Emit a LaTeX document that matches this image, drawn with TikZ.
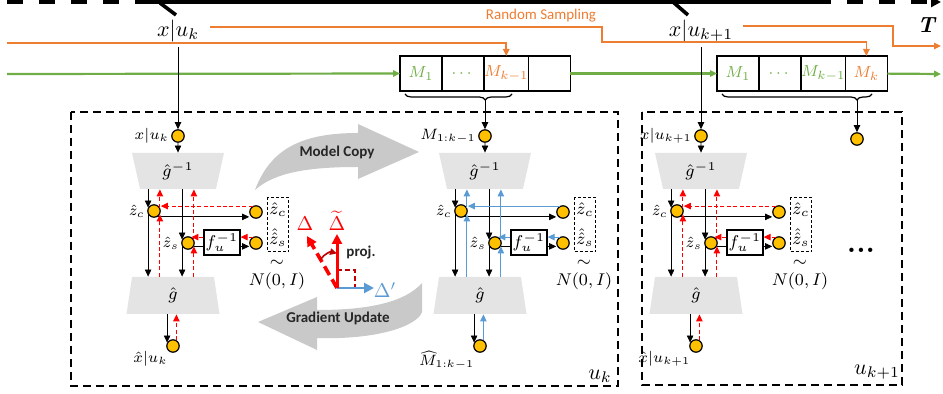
\RequirePackage{fix-cm}
\documentclass[tikz,border=0pt]{standalone}
\usepackage{amsmath,amssymb}
\usepackage{fontspec}
\usepackage{xcolor}
\usepackage{tikz}
\usetikzlibrary{shapes,arrows,positioning,calc,decorations.pathreplacing,arrows.meta}
\newfontfamily\calibri{Carlito}

\definecolor{ppOrange}{HTML}{ED7D31}
\definecolor{ppGreen}{HTML}{70AD47}
\definecolor{ppBlue}{HTML}{5B9BD5}
\definecolor{ppYellow}{HTML}{FFC000}
\definecolor{ppGray}{HTML}{E4E4E4}
\definecolor{arrGray}{HTML}{C9C9C9}
\definecolor{darkRed}{HTML}{C00000}

\tikzset{
    dot/.style={circle, draw, fill=ppYellow, minimum size=6.2pt, inner sep=0pt, line width=0.6pt},
    lbl/.style={inner sep=1pt, font=\fontsize{7.5}{9}\selectfont},
    ginv/.style={trapezium, trapezium left angle=115, trapezium right angle=115, trapezium stretches body, fill=ppGray, minimum width=46pt, minimum height=18pt, inner sep=0pt},
    gfwd/.style={trapezium, trapezium left angle=70, trapezium right angle=70, trapezium stretches body, fill=ppGray, minimum width=46.5pt, minimum height=18.5pt, inner sep=0pt},
    fbox/.style={draw, fill=white, line width=0.6pt, minimum width=18pt, minimum height=12.5pt, inner sep=0pt},
    nbox/.style={draw, dash pattern=on 1.5pt off 1pt, line width=0.5pt, minimum width=10.5pt, minimum height=27pt, inner sep=0pt, align=center, font=\fontsize{8.5}{15}\selectfont},
    cell/.style={draw, line width=0.6pt, minimum width=21pt, minimum height=17.5pt, inner sep=0pt, outer sep=0pt, font=\fontsize{8}{9}\selectfont},
    bwdred/.style={->, red, line width=0.6pt, dash pattern=on 2pt off 1.2pt},
    bwdblue/.style={->, ppBlue, line width=0.6pt},
    samp/.style={->, ppOrange, line width=0.8pt},
    mem/.style={->, ppGreen, line width=1.1pt},
    unitbox/.style={draw, line width=0.7pt, dash pattern=on 4pt off 2.5pt},
    sans/.style={font=\calibri\bfseries\fontsize{7.5}{8}\selectfont, text=black!85},
    vec/.style={line width=1.5pt, -{Triangle[length=5pt,width=5pt]}}
}

\begin{document}
\begin{tikzpicture}[x=0.5pt, y=-0.5pt, font=\fontsize{8.5}{10}\selectfont, >={Triangle[length=3.5pt,width=3.2pt]}]
    \useasboundingbox (0,0) rectangle (943,394);

    % time line
    \draw[line width=1.8pt, dash pattern=on 8pt off 8pt] (7,2) -- (140,2);
    \draw[line width=1.8pt] (140,2) -- (815,2);
    \draw[line width=1.8pt, dash pattern=on 8pt off 8pt, -{Triangle[length=5pt,width=5pt]}] (815,2) -- (941,2);
    \draw[line width=1.8pt] (160,3) -- (176,15);
    \draw[line width=1.8pt] (673,2) -- (688,15);
    \node (T) at (927,25) {\fontsize{11}{12}\selectfont\textbf{\textit{T}}};

    \node[inner sep=2.5pt, font=\fontsize{11}{12}\selectfont] (xk) at (178,31) {$x|u_k$};
    \node[inner sep=2.5pt, font=\fontsize{11}{12}\selectfont] (xk1) at (701,31) {$x|u_{k+1}$};

    % memory
    \node[cell, text=ppGreen] (ma1) at (421,73.5) {$M_1$};
    \node[cell, text=ppGreen, right=0pt of ma1] (ma2) {$\cdots$};
    \node[cell, text=ppOrange, right=0pt of ma2] (ma3) {$M_{k-1}$};
    \node[cell, right=0pt of ma3] (ma4) {};
    \node[cell, text=ppGreen] (mb1) at (738,73.5) {$M_1$};
    \node[cell, text=ppGreen, right=0pt of mb1] (mb2) {$\cdots$};
    \node[cell, text=ppGreen, right=0pt of mb2] (mb3) {$M_{k-1}$};
    \node[cell, text=ppOrange, right=0pt of mb3] (mb4) {$M_k$};

    \coordinate (g0) at (7,74);
    \coordinate (g1) at (941,74);
    \draw[mem] (g0) -- (ma1);
    \draw[mem] (ma4) -- (mb1);
    \draw[mem] (mb4) -- (g1);

    % random sampling
    \coordinate (o1) at (7,43);
    \coordinate (o2) at (210,27);
    \coordinate (o3) at (743,26);
    \coordinate (o3e) at (941,46);
    \draw[samp] (o1) -| (ma3);
    \draw[samp] (o2) -- (602,27) -- (602,42) -| (mb4);
    \draw[samp] (o3) -- (893,26) |- (o3e);
    \node[font=\calibri\fontsize{7.5}{8}\selectfont, text=ppOrange] (rs) at (541,16) {Random Sampling};

    % braces
    \draw[line width=0.6pt, decorate, decoration={brace, mirror, amplitude=3pt, aspect=0.75}] (405,94) -- (512,94);
    \draw[line width=0.6pt, decorate, decoration={brace, mirror, amplitude=3pt, aspect=0.9}] (722,94) -- (872,94);
    \coordinate (ba) at (485,100);
    \coordinate (bb) at (857,100);

    % units
    \draw[unitbox] (71,112) rectangle (618,386);
    \draw[unitbox] (642,112) rectangle (902,385);
    \node[font=\fontsize{11}{12}\selectfont] (uk) at (600,376) {$u_k$};
    \node[font=\fontsize{11}{12}\selectfont] (uk1) at (877,372) {$u_{k+1}$};

    % flow modules
    \foreach \cx/\m/\bk/\inl/\outl in {178/a/bwdred/{x|u_k}/{\hat{x}|u_k}, 485/b/bwdblue/{M_{1:k-1}}/{\widehat{M}_{1:k-1}}, 701/c/bwdred/{x|u_{k+1}}/{\hat{x}|u_{k+1}}} {
        \node[dot, label={[lbl]left:$\inl$}] (\m-in) at (\cx,136) {};
        \node[ginv] (\m-gi) at (\cx,171) {$\hat{g}^{-1}$};
        \node[dot, label={[lbl]left:$\hat{z}_c$}] (\m-zc) at (\cx-24,211) {};
        \node[dot, label={[lbl]left:$\hat{z}_s$}] (\m-zs) at (\cx+10,243) {};
        \node[fbox] (\m-f) at (\cx+44,242.5) {$f_u^{-1}$};
        \node[dot] (\m-rc) at (\cx+78,212) {};
        \node[dot] (\m-rs) at (\cx+78,243) {};
        \node[nbox] (\m-nb) at (\cx+100,225) {$\hat{z}_c$\\$\hat{\hat{z}}_s$};
        \node[inner sep=0pt] (\m-sim) at (\cx+99,263) {$\sim$};
        \node[inner sep=0pt] (\m-N) at (\cx+99,281) {$N(0,I)$};
        \node[gfwd] (\m-g) at (\cx-5,295.5) {$\hat{g}$};
        \node[dot, label={[lbl, inner sep=0pt, anchor=north east]220:$\outl$}] (\m-out) at (\cx-5,346) {};

        % forward
        \draw[->] (\m-in) -- (\m-gi);
        \draw[->] (\m-gi.south -| \m-zc.150) -- (\m-zc.150);
        \draw[->] (\m-zc.210) -- (\m-zc.210 |- \m-g.north);
        \draw[->] (\m-gi.south -| \m-zs.150) -- (\m-zs.150);
        \draw[->] (\m-zs.210) -- (\m-zs.210 |- \m-g.north);
        \draw[->] (\m-zc.-60) -- (\m-zc.-60 -| \m-rc.west);
        \draw (\m-zs.-30) -- (\m-zs.-30 -| \m-f.west);
        \draw[->] (\m-zs.-30 -| \m-f.east) -- (\m-zs.-30 -| \m-rs.west);
        \draw[->] (\m-g.south -| \m-out.150) -- (\m-out.150);

        % backward
        \draw[\bk] (\m-zc.30) -- (\m-zc.30 |- \m-gi.south);
        \draw[\bk] (\m-zc.-30 |- \m-g.north) -- (\m-zc.-30);
        \draw[\bk] (\m-zs.30) -- (\m-zs.30 |- \m-gi.south);
        \draw[\bk] (\m-zs.-30 |- \m-g.north) -- (\m-zs.-30);
        \draw[\bk] (\m-rc.120) -- (\m-rc.120 -| \m-zc.east);
        \draw[\bk] (\m-rs.120) -- (\m-rs.120 -| \m-f.east);
        \draw[\bk] (\m-zs.60 -| \m-f.west) -- (\m-zs.60);
        \draw[\bk] (\m-out.60) -- (\m-out.60 |- \m-g.south);
    }

    \node[dot] (nx) at (857,139) {};
    \node[font=\fontsize{15}{15}\selectfont] (more) at (861,250) {\textbf{...}};

    \draw[->] (xk) -- (a-in);
    \draw[->] (xk1) -- (c-in);
    \draw[->] (ba) -- (b-in);
    \draw[->] (bb) -- (nx);

    % model copy / gradient update
    \fill[arrGray] (255,190) .. controls (270,150) and (300,133) .. (358,133) -- (358,124) -- (419,152) -- (358,179) -- (358,167) .. controls (310,167) and (275,172) .. cycle;
    \node[sans] (mc) at (337,152) {Model Copy};
    \fill[arrGray] (422,283) .. controls (405,302) and (370,310) .. (317,310) -- (317,297) -- (258,322) -- (317,350) -- (317,338) .. controls (380,340) and (418,325) .. (422,312) -- cycle;
    \node[sans] (gu) at (338,318) {Gradient Update};

    % projection
    \coordinate (o) at (337,288);
    \coordinate (dEnd) at (307,236);
    \coordinate (dtEnd) at (337,234);
    \coordinate (dpEnd) at (374,288);
    \draw[darkRed, dash pattern=on 2.5pt off 1.5pt, line width=0.9pt] (337,270) -| (355,288);
    \draw[vec, ppBlue, line width=1.3pt] (o) -- (dpEnd);
    \draw[vec, red] (o) -- (dtEnd);
    \draw[vec, red, line width=1.8pt, dash pattern=on 5pt off 2.5pt] (o) -- (dEnd);
    \draw[darkRed, line width=0.8pt, ->] ($(o)!0.55!(dEnd)$) to[bend left=35] ($(o)!0.64!(dtEnd)$);
    \node[red, font=\fontsize{10}{11}\selectfont] (d) at (305,224) {$\Delta$};
    \node[red, font=\fontsize{10}{11}\selectfont] (dt) at (337,221) {$\widetilde{\Delta}$};
    \node[ppBlue, font=\fontsize{10}{11}\selectfont] (dp) at (385,290) {$\Delta'$};
    \node[sans] (pj) at (361,253) {proj.};
\end{tikzpicture}
\end{document}
